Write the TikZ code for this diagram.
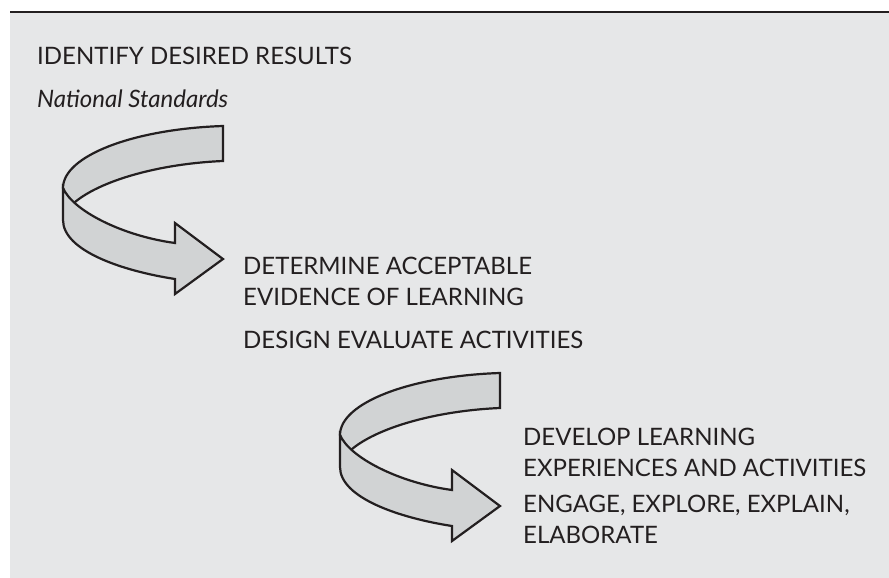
\documentclass[tikz,border=0pt]{standalone}
\usepackage{fontspec}
\setmainfont{Lato}
\definecolor{panelgray}{HTML}{E6E7E8}
\definecolor{bandgray}{HTML}{D1D3D4}
\definecolor{ink}{HTML}{231F20}
\begin{document}
\begin{tikzpicture}[x=1pt,y=-1pt,
    step text/.style={anchor=north west,inner sep=0pt,align=left,text=ink,
      font=\fontsize{24}{30.5}\selectfont},
    band/.style={fill=bandgray,draw=ink,line width=2.2pt,line join=miter},
    turnarrow/.pic={
      % back part of the ribbon
      \filldraw[band] (0,0) .. controls (-90,3) and (-160,30) .. (-160,62)
        -- (-156,84) .. controls (-135,58) and (-70,38) .. (0,35) -- cycle;
      % front part with the head
      \filldraw[band] (-160,62) .. controls (-150,85) and (-100,110) .. (-48,117)
        -- (-48,97) -- (0,133) -- (-48,168) -- (-48,153)
        .. controls (-100,145) and (-160,125) .. (-160,94) -- cycle;
    }]
  \useasboundingbox (0,0) rectangle (889,578);
  \fill[panelgray] (10,13) rectangle (889,578);
  \draw[ink,line width=2.5pt] (10,12) -- (889,12);

  \node[step text] (goal) at (37,47) {IDENTIFY DESIRED RESULTS};
  \node[step text,anchor=base west] (stds) at (37,107) {\itshape National Standards};

  \pic at (223,126) {turnarrow};
  \node[step text] (evid) at (243,257) {DETERMINE ACCEPTABLE\\EVIDENCE OF LEARNING};
  \node[step text] (eval) at (243,331) {DESIGN EVALUATE ACTIVITIES};

  \pic at (500,373) {turnarrow};
  \node[step text] (learn) at (523,428) {DEVELOP LEARNING\\EXPERIENCES AND ACTIVITIES};
  \node[step text] (phases) at (523,495) {ENGAGE, EXPLORE, EXPLAIN,\\ELABORATE};
\end{tikzpicture}
\end{document}
